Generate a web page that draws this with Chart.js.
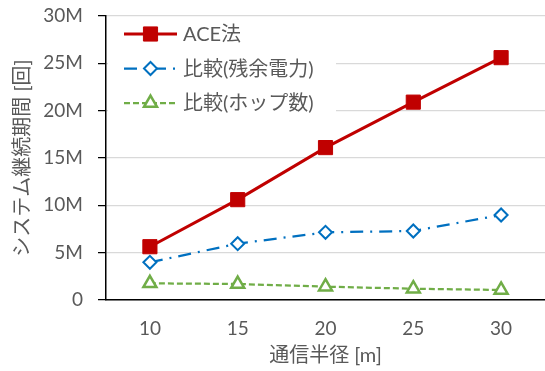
<!DOCTYPE html>
<html>
<head>
<meta charset="utf-8">
<script src="https://cdn.jsdelivr.net/npm/chart.js@4.4.0/dist/chart.umd.min.js"></script>
<style>
  body { margin: 0; background: #fff; }
  canvas { display: block; }
</style>
</head>
<body>
<canvas id="grafica" width="545" height="371"></canvas>
<script>
// radio de comunicacion [m]
const radios = ["10", "15", "20", "25", "30"];
// valores en millones
const aceData = [5.63, 10.6, 16.1, 20.9, 25.6];
const residualData = [3.98, 5.95, 7.15, 7.29, 8.98];
const hopData = [1.76, 1.69, 1.41, 1.19, 1.06];
const yTicks = [0, 5, 10, 15, 20, 25, 30];

const fuente = 'Lato, "Noto Sans CJK JP"';
const gris = "#595959";

// leyenda dentro del area del grafico (arriba a la izquierda)
const leyenda = {
  id: "leyenda",
  beforeDatasetsDraw(chart) {
    const ctx = chart.ctx;
    ctx.save();
    ctx.fillStyle = "#fff";
    ctx.fillRect(108, 19, 228, 100);
    chart.data.datasets.forEach((ds, i) => {
      const y = 34 + i * 34.5;
      ctx.strokeStyle = ds.borderColor;
      ctx.lineWidth = ds.borderWidth;
      ctx.setLineDash(ds.borderDash || []);
      ctx.beginPath();
      ctx.moveTo(124, y);
      ctx.lineTo(177, y);
      ctx.stroke();
      ctx.setLineDash([]);
      ctx.fillStyle = ds.pointBackgroundColor;
      ctx.strokeStyle = ds.pointBorderColor;
      ctx.lineWidth = ds.pointBorderWidth;
      Chart.helpers.drawPoint(ctx, {
        pointStyle: ds.pointStyle,
        radius: ds.pointRadius,
        borderWidth: ds.pointBorderWidth,
        rotation: 0,
      }, 150.5, y);
      ctx.fillStyle = gris;
      ctx.font = "20px " + fuente;
      ctx.textBaseline = "middle";
      ctx.textAlign = "left";
      ctx.fillText(ds.label, 183, y + 1);
    });
    ctx.restore();
  },
};

const ctx1 = document.getElementById("grafica").getContext("2d");
const chart1 = new Chart(ctx1, {
  type: "line",
  data: {
    labels: radios,
    datasets: [
      {
        label: "ACE法",
        data: aceData,
        borderColor: "#C00000",
        borderWidth: 3,
        pointStyle: "rect",
        pointRadius: 10,
        pointBackgroundColor: "#C00000",
        pointBorderColor: "#C00000",
        pointBorderWidth: 1,
      },
      {
        label: "比較(残余電力)",
        data: residualData,
        borderColor: "#0070C0",
        borderWidth: 2.25,
        borderDash: [13, 7, 2, 7],
        pointStyle: "rectRot",
        pointRadius: 6.5,
        pointBackgroundColor: "#fff",
        pointBorderColor: "#0070C0",
        pointBorderWidth: 2,
      },
      {
        label: "比較(ホップ数)",
        data: hopData,
        borderColor: "#70AD47",
        borderWidth: 2.25,
        borderDash: [6, 3],
        pointStyle: "triangle",
        pointRadius: 7.5,
        pointBackgroundColor: "#fff",
        pointBorderColor: "#70AD47",
        pointBorderWidth: 2.5,
      },
    ],
  },
  options: {
    responsive: false,
    animation: false,
    layout: { autoPadding: false, padding: { top: 16, right: 0, left: 0, bottom: 0 } },
    plugins: {
      legend: { display: false },
      tooltip: { enabled: false },
    },
    scales: {
      x: {
        offset: true,
        afterFit: (s) => {
          s.height = 71;
          s.paddingLeft = 0;
          s.paddingRight = 0;
        },
        grid: { display: false },
        border: { display: true, color: "#000", width: 1.5 },
        ticks: { color: gris, font: { family: fuente, size: 19 }, padding: 9 },
        title: {
          display: true,
          text: "通信半径 [m]",
          color: gris,
          font: { family: fuente, size: 20 },
          padding: { top: 0, bottom: 3 },
        },
      },
      y: {
        min: 0,
        max: 30,
        afterFit: (s) => {
          s.width = 106;
          s.paddingTop = 0;
          s.paddingBottom = 0;
        },
        afterBuildTicks: (s) => { s.ticks = yTicks.map((v) => ({ value: v })); },
        grid: { color: "#d9d9d9", lineWidth: 1.25, tickColor: "#000", tickLength: 8 },
        border: { display: true, color: "#000", width: 1.5 },
        ticks: {
          color: gris,
          font: { family: fuente, size: 19 },
          padding: 15,
          callback: (v) => (v === 0 ? "0" : v + "M"),
        },
        title: {
          display: true,
          text: "システム継続期間 [回]",
          color: gris,
          font: { family: fuente, size: 20 },
          padding: { top: 11, bottom: 0 },
        },
      },
    },
  },
  plugins: [leyenda],
});
</script>
</body>
</html>
